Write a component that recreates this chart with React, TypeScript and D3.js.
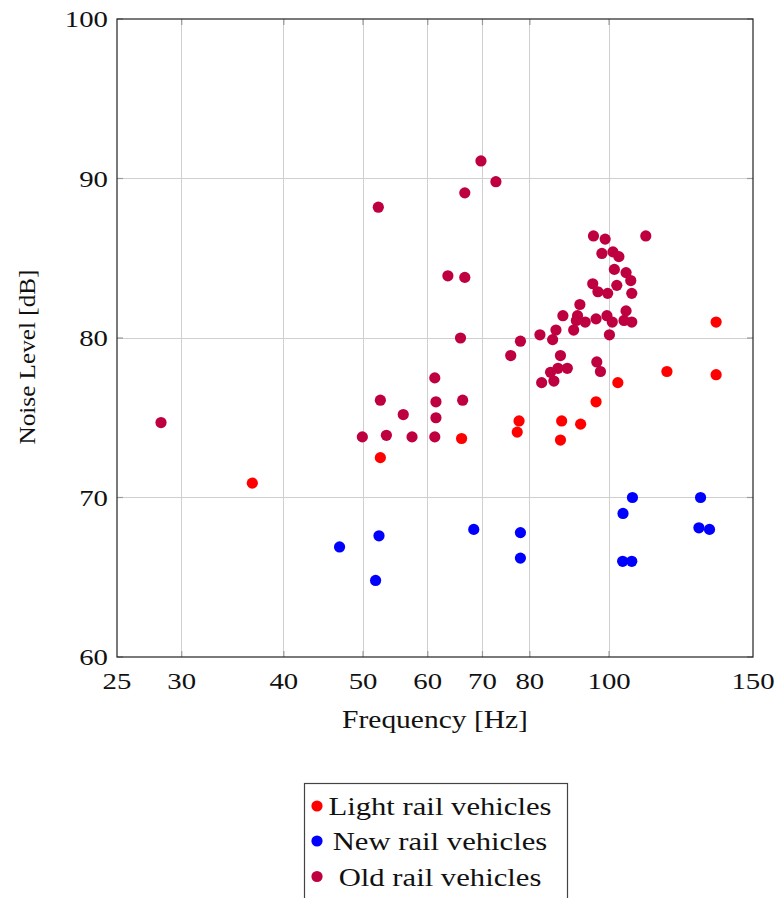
import * as d3 from "d3";
import { useEffect, useRef } from "react";

// [frequency Hz, noise level dB]
const lightRail: [number, number][] = [
  [36.6, 70.9], [52.5, 72.5], [66.0, 73.7], [77.2, 74.1], [77.6, 74.8],
  [87.2, 73.6], [87.5, 74.8], [92.3, 74.6], [96.4, 76.0], [102.5, 77.2],
  [117.7, 77.9], [135.2, 77.7], [135.2, 81.0],
];

const newRail: [number, number][] = [
  [46.8, 66.9], [51.8, 64.8], [52.3, 67.6], [68.3, 68.0], [77.9, 67.8],
  [77.9, 66.2], [104.0, 69.0], [106.8, 70.0], [103.9, 66.0], [106.6, 66.0],
  [129.4, 70.0], [128.8, 68.1], [132.7, 68.0],
];

const oldRail: [number, number][] = [
  [28.3, 74.7], [49.9, 73.8], [52.2, 88.2], [52.5, 76.1], [53.4, 73.9],
  [56.0, 75.2], [57.4, 73.8], [61.2, 73.8], [61.2, 77.5], [61.4, 76.0],
  [61.4, 75.0], [63.5, 83.9], [65.8, 80.0], [66.2, 76.1], [66.6, 89.1],
  [66.6, 83.8], [69.7, 91.1], [72.7, 89.8], [75.8, 78.9], [77.9, 79.8],
  [82.3, 80.2], [82.7, 77.2], [84.8, 77.85], [85.3, 79.9], [85.6, 77.3],
  [86.1, 80.5], [86.6, 78.1], [87.2, 78.9], [87.8, 81.4], [88.9, 78.1],
  [90.5, 80.5], [91.2, 81.1], [91.5, 81.4], [92.1, 82.1], [93.5, 81.0],
  [95.5, 83.4], [95.7, 86.4], [96.4, 81.2], [96.6, 78.5], [96.9, 82.9],
  [97.6, 77.9], [98.0, 85.3], [98.9, 86.2], [99.6, 82.8], [99.4, 81.4],
  [100.1, 80.2], [100.9, 81.0], [101.1, 85.4], [101.5, 84.3], [102.2, 83.3],
  [102.8, 85.1], [104.3, 81.1], [104.9, 84.1], [104.9, 81.7], [106.3, 83.6],
  [106.6, 82.8], [106.6, 81.0], [110.9, 86.4],
];

const seriesNames = ["Light rail vehicles", "New rail vehicles", "Old rail vehicles"];
const seriesColors = ["#ff0000", "#0000ff", "#bf0040"];
const xTicks = [25, 30, 40, 50, 60, 70, 80, 100, 150];
const xGrid = [30, 40, 50, 60, 70, 80, 100];
const yTicks = [60, 70, 80, 90, 100];
const yGrid = [70, 80, 90];

const FONT = "'Liberation Serif', 'Times New Roman', serif";

export default function App() {
  const ref = useRef<SVGSVGElement>(null);

  useEffect(() => {
    const svg = d3.select(ref.current);
    svg.selectAll("*").remove();

    const left = 117, right = 753, top = 19, bottom = 657;
    const x = d3.scaleLog().domain([25, 150]).range([left, right]);
    const y = d3.scaleLinear().domain([60, 100]).range([bottom, top]);

    svg.append("rect").attr("width", 778).attr("height", 898).attr("fill", "white");

    const grid = svg.append("g").attr("shape-rendering", "crispEdges");
    grid.selectAll("line.vx")
      .data(xGrid)
      .join("line")
      .attr("x1", (d) => x(d)).attr("x2", (d) => x(d))
      .attr("y1", top).attr("y2", bottom)
      .attr("stroke", "#cfcfcf").attr("stroke-width", 1);
    grid.selectAll("line.hy")
      .data(yGrid)
      .join("line")
      .attr("class", "hy")
      .attr("x1", left).attr("x2", right)
      .attr("y1", (d) => y(d)).attr("y2", (d) => y(d))
      .attr("stroke", "#cfcfcf").attr("stroke-width", 1);

    // little tick marks inside the frame
    const ticks = svg.append("g").attr("stroke", "#9a9a9a").attr("stroke-width", 1.2);
    xGrid.forEach((t) => {
      ticks.append("line").attr("x1", x(t)).attr("x2", x(t)).attr("y1", top).attr("y2", top + 6);
      ticks.append("line").attr("x1", x(t)).attr("x2", x(t)).attr("y1", bottom).attr("y2", bottom - 6);
    });
    yTicks.forEach((t) => {
      ticks.append("line").attr("x1", left).attr("x2", left + 6).attr("y1", y(t)).attr("y2", y(t));
      ticks.append("line").attr("x1", right).attr("x2", right - 6).attr("y1", y(t)).attr("y2", y(t));
    });

    svg.append("rect")
      .attr("x", left).attr("y", top)
      .attr("width", right - left).attr("height", bottom - top)
      .attr("fill", "none").attr("stroke", "#222").attr("stroke-width", 1.2);

    const series = [lightRail, newRail, oldRail];
    series.forEach((pts, i) => {
      svg.append("g")
        .selectAll("circle")
        .data(pts)
        .join("circle")
        .attr("cx", (d) => x(d[0]))
        .attr("cy", (d) => y(d[1]))
        .attr("r", 5.6)
        .attr("fill", seriesColors[i]);
    });

    const txt = (g: any, s: string, tx: number, ty: number, size: number, anchor: string, sx: number) =>
      g.append("text")
        .attr("transform", `translate(${tx},${ty}) scale(${sx},1)`)
        .attr("text-anchor", anchor)
        .style("font-family", FONT)
        .style("font-size", `${size}px`)
        .attr("fill", "#111")
        .text(s);

    yTicks.forEach((t) => txt(svg, String(t), 108, y(t) + 8, 24, "end", 1.2));
    xTicks.forEach((t) => txt(svg, String(t), x(t), 689, 24, "middle", 1.2));

    txt(svg, "Frequency [Hz]", 435, 728, 25, "middle", 1.18);
    svg.append("text")
      .attr("transform", "translate(35,357) rotate(-90) scale(1.05,1)")
      .attr("text-anchor", "middle")
      .style("font-family", FONT)
      .style("font-size", "24px")
      .attr("fill", "#111")
      .text("Noise Level [dB]");

    // legend
    const lg = svg.append("g");
    lg.append("rect")
      .attr("x", 304.5).attr("y", 783.5)
      .attr("width", 263).attr("height", 140)
      .attr("fill", "white").attr("stroke", "#444").attr("stroke-width", 1.2);
    const rows = [806, 841, 876.5];
    seriesNames.forEach((name, i) => {
      lg.append("circle").attr("cx", 317).attr("cy", rows[i]).attr("r", 5.6).attr("fill", seriesColors[i]);
      txt(lg, name, 440, rows[i] + 9, 26, "middle", 1.18);
    });
  }, []);

  return (
    <svg
      ref={ref}
      width={778}
      height={898}
      style={{ position: "absolute", left: 0, top: 0, display: "block" }}
    />
  );
}
